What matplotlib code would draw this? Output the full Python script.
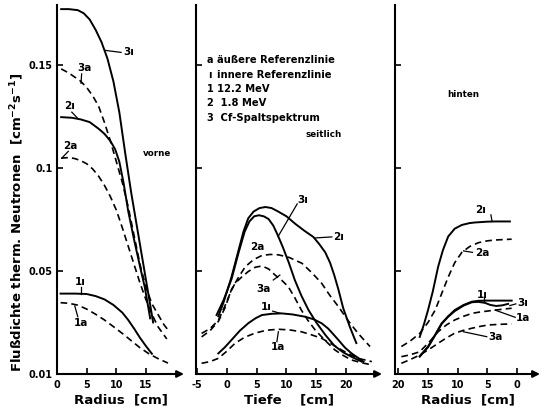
import matplotlib
matplotlib.use("Agg")
import matplotlib.pyplot as plt

plt.rcParams["font.family"] = ["DejaVu Sans"]
plt.rcParams["font.weight"] = "bold"

# --- Daten ---------------------------------------------------------------
# vorne (Radius, cm)
v_x_3i = [0.7, 2.0, 3.5, 4.5, 5.5, 6.5, 7.5, 8.5, 9.5, 10.5, 11.5, 12.5, 13.5, 14.5, 15.5, 16.2]
v_y_3i = [0.177, 0.177, 0.1765, 0.175, 0.172, 0.167, 0.161, 0.153, 0.142, 0.127, 0.107,
          0.088, 0.071, 0.054, 0.037, 0.025]
v_x_3a = [0.7, 2.0, 3.0, 4.0, 5.0, 6.0, 7.0, 8.0, 9.0, 10.0, 11.0, 12.0, 13.0, 14.0, 15.0,
          16.0, 17.0, 18.0, 18.8]
v_y_3a = [0.148, 0.146, 0.144, 0.142, 0.139, 0.135, 0.130, 0.122, 0.113, 0.103, 0.093,
          0.081, 0.067, 0.053, 0.042, 0.034, 0.029, 0.024, 0.021]
v_x_2i = [0.7, 2.5, 4.0, 5.5, 7.0, 8.0, 9.0, 9.8, 10.5, 11.2, 12.0, 13.0, 14.0, 14.8, 15.7]
v_y_2i = [0.1246, 0.1243, 0.1235, 0.1222, 0.119, 0.1165, 0.113, 0.109, 0.103, 0.093,
          0.079, 0.065, 0.052, 0.042, 0.027]
v_x_2a = [0.7, 2.0, 3.0, 4.0, 5.0, 6.0, 7.0, 8.0, 9.0, 10.0, 11.0, 12.0, 13.0, 14.0, 15.0,
          16.0, 17.0, 18.5]
v_y_2a = [0.1047, 0.105, 0.1045, 0.1035, 0.102, 0.0995, 0.096, 0.0915, 0.086, 0.0795,
          0.071, 0.062, 0.053, 0.044, 0.036, 0.029, 0.023, 0.017]
v_x_1i = [0.6, 3.0, 5.0, 6.5, 8.0, 9.5, 11.0, 12.0, 13.0, 14.0, 15.0, 16.0]
v_y_1i = [0.039, 0.039, 0.0388, 0.0378, 0.0362, 0.0335, 0.0298, 0.0262, 0.022, 0.0175,
          0.0135, 0.0098]
v_x_1a = [0.6, 2.0, 3.5, 5.0, 6.5, 8.0, 9.5, 11.0, 12.5, 14.0, 15.5, 17.0, 18.7]
v_y_1a = [0.0346, 0.0343, 0.0334, 0.0315, 0.029, 0.0262, 0.023, 0.0197, 0.0162, 0.0127,
          0.0098, 0.0075, 0.0053]

# seitlich (Tiefe, cm)
s_x_2i = [-1.4, -0.5, 0.8, 1.8, 2.8, 3.6, 4.5, 5.5, 6.5, 7.5, 8.5, 10.0, 11.5, 13.0, 14.5,
          15.5, 16.5, 17.3, 18.0, 18.7, 19.5, 20.6, 21.7]
s_y_2i = [0.028, 0.035, 0.047, 0.058, 0.069, 0.0755, 0.0788, 0.0805, 0.081, 0.0805, 0.079,
          0.0765, 0.0728, 0.0695, 0.0665, 0.063, 0.059, 0.054, 0.048, 0.041, 0.032, 0.023,
          0.015]
s_x_3i = [-1.7, -0.5, 0.8, 2.0, 3.0, 3.8, 4.6, 5.4, 6.2, 7.0, 7.8, 8.6, 9.4, 10.4, 11.4,
          12.5, 13.7, 15.0, 16.5, 18.0, 19.5, 21.0, 22.6]
s_y_3i = [0.0286, 0.036, 0.046, 0.059, 0.069, 0.074, 0.0765, 0.077, 0.0765, 0.0752, 0.072,
          0.067, 0.0615, 0.054, 0.0456, 0.038, 0.031, 0.025, 0.019, 0.0138, 0.0105, 0.0082,
          0.006]
s_x_2a = [-4.2, -2.8, -1.4, -0.3, 0.8, 2.0, 3.1, 4.5, 5.9, 7.3, 8.7, 10.5, 12.6, 14.3, 15.9,
          17.3, 18.7, 20.3, 22.0, 24.0]
s_y_2a = [0.018, 0.021, 0.0255, 0.032, 0.041, 0.047, 0.052, 0.0555, 0.0575, 0.058, 0.0578,
          0.0565, 0.0537, 0.049, 0.044, 0.038, 0.0327, 0.026, 0.0197, 0.0133]
s_x_3a = [-4.2, -2.8, -1.4, -0.3, 0.7, 1.4, 2.5, 3.6, 4.8, 5.9, 7.0, 8.1, 9.2, 10.3, 11.4,
          12.5, 13.6, 14.8, 16.4, 18.1, 19.5, 20.9, 22.5, 24.3]
s_y_3a = [0.0197, 0.022, 0.026, 0.033, 0.040, 0.044, 0.047, 0.0497, 0.0518, 0.0524, 0.051,
          0.048, 0.0455, 0.0424, 0.037, 0.031, 0.026, 0.0214, 0.0165, 0.0117, 0.009, 0.0068,
          0.0055, 0.0044]
s_x_1i = [-1.4, -0.3, 0.8, 2.2, 3.6, 4.8, 5.9, 7.5, 9.2, 11.0, 13.1, 14.6, 15.9, 17.0, 18.0,
          18.7, 19.8, 20.9, 22.9]
s_y_1i = [0.010, 0.013, 0.0165, 0.021, 0.0246, 0.027, 0.0286, 0.0292, 0.0294, 0.0289,
          0.0278, 0.0265, 0.0246, 0.022, 0.0188, 0.0165, 0.0128, 0.010, 0.006]
s_x_1a = [-4.2, -2.8, -1.4, 0.0, 1.4, 3.0, 4.7, 6.6, 8.6, 10.5, 12.5, 14.2, 15.9, 17.6, 19.2,
          20.6, 22.0, 24.3]
s_y_1a = [0.0052, 0.006, 0.0076, 0.011, 0.0149, 0.0178, 0.0198, 0.0212, 0.0217, 0.0214,
          0.0205, 0.019, 0.0173, 0.0145, 0.0117, 0.0095, 0.0076, 0.006]

# hinten (Radius, cm)
h_x_2i = [16.4, 15.7, 15.0, 14.2, 13.3, 12.5, 11.6, 10.5, 9.3, 8.0, 7.1, 5.0, 3.7, 1.2]
h_y_2i = [0.018, 0.024, 0.031, 0.040, 0.052, 0.060, 0.0667, 0.0705, 0.0723, 0.0732, 0.0735,
          0.0739, 0.074, 0.074]
h_x_2a = [19.5, 18.0, 16.4, 15.0, 13.8, 12.7, 11.6, 10.5, 9.3, 8.0, 6.5, 5.0, 3.7, 0.9]
h_y_2a = [0.0133, 0.016, 0.0197, 0.025, 0.031, 0.039, 0.047, 0.054, 0.059, 0.0618, 0.0637,
          0.0646, 0.065, 0.0654]
h_x_1i = [16.4, 15.0, 13.8, 12.7, 11.6, 10.5, 9.0, 7.6, 6.5, 5.4, 0.9]
h_y_1i = [0.0084, 0.0133, 0.019, 0.0246, 0.028, 0.031, 0.0335, 0.0351, 0.0355, 0.0356,
          0.0356]
h_x_3i = [16.4, 15.0, 13.8, 12.7, 11.6, 10.5, 9.0, 7.6, 6.5, 5.4, 4.5, 3.5, 2.5, 1.5]
h_y_3i = [0.0087, 0.013, 0.0188, 0.0243, 0.0278, 0.0305, 0.0332, 0.0348, 0.035, 0.0345,
          0.0335, 0.033, 0.0333, 0.034]
h_x_1a = [19.5, 18.0, 16.4, 14.8, 13.3, 11.9, 10.5, 9.0, 7.6, 6.2, 4.8, 2.8, 0.9]
h_y_1a = [0.0084, 0.0093, 0.0108, 0.0155, 0.0205, 0.0238, 0.0262, 0.028, 0.0294, 0.0301,
          0.0306, 0.0313, 0.0319]
h_x_3a = [19.5, 18.0, 16.4, 14.8, 13.3, 11.9, 10.5, 9.0, 7.6, 6.2, 4.8, 2.8, 0.9]
h_y_3a = [0.0052, 0.007, 0.0092, 0.012, 0.0149, 0.0175, 0.0198, 0.0212, 0.0222, 0.0231,
          0.0238, 0.0241, 0.0243]

y_ticks = [0.0, 0.05, 0.1, 0.15]
y_ticklabels = ["0.01", "0.05", "0.1", "0.15"]

legend_keys = ["a", "ı", "1", "2", "3"]
legend_texts = ["äußere Referenzlinie", "innere Referenzlinie", "12.2 MeV",
                " 1.8 MeV", " Cf-Spaltspektrum"]

W, H = 541, 413
fig = plt.figure(figsize=(W / 100, H / 100), dpi=100)


def make_ax(left_px, right_px, xlim, xticks, xticklabels, xlabel):
    ax = fig.add_axes([left_px / W, (H - 374) / H, (right_px - left_px) / W, 369 / H])
    ax.set_xlim(*xlim)
    ax.set_ylim(0, 0.179)
    for s in ("top", "right", "bottom"):
        ax.spines[s].set_visible(False)
    ax.spines["left"].set_linewidth(1.5)
    ax.set_yticks(y_ticks)
    ax.set_xticks(xticks)
    ax.set_xticklabels(xticklabels, fontsize=7, fontweight="bold")
    ax.tick_params(direction="in", length=4, width=1.2, pad=4)
    ax.set_xlabel(xlabel, fontsize=9.5, fontweight="bold", labelpad=3)
    ax.annotate("", xy=(1.0, 0), xytext=(0, 0), xycoords="axes fraction",
                arrowprops=dict(arrowstyle="-|>", lw=1.5, color="black",
                                mutation_scale=10, shrinkA=0, shrinkB=0))
    return ax


def curve(ax, x, y, dashed):
    if dashed:
        ax.plot(x, y, color="black", lw=1.2, dashes=(4, 2.5))
    else:
        ax.plot(x, y, color="black", lw=1.4, solid_joinstyle="round")


def label(ax, txt, xy_text, xy_from=None, xy_to=None):
    ax.text(*xy_text, txt, fontsize=7.5, fontweight="bold", ha="center", va="center")
    if xy_from is not None:
        ax.plot([xy_from[0], xy_to[0]], [xy_from[1], xy_to[1]], color="black", lw=0.9)


# vorne
ax1 = make_ax(57, 184, (0, 21.4), [0, 5, 10, 15], ["0", "5", "10", "15"], "Radius  [cm]")
ax1.set_yticklabels(y_ticklabels, fontsize=7, fontweight="bold")
ax1.tick_params(axis="y", pad=3)
curve(ax1, v_x_3i, v_y_3i, False)
curve(ax1, v_x_3a, v_y_3a, True)
curve(ax1, v_x_2i, v_y_2i, False)
curve(ax1, v_x_2a, v_y_2a, True)
curve(ax1, v_x_1i, v_y_1i, False)
curve(ax1, v_x_1a, v_y_1a, True)
label(ax1, "3ı", (12.1, 0.156), (8.1, 0.157), (10.8, 0.156))
label(ax1, "3a", (4.55, 0.1485), (4.15, 0.1456), (4.05, 0.141))
label(ax1, "2ı", (2.2, 0.130), (2.5, 0.127), (3.5, 0.124))
label(ax1, "2a", (2.3, 0.1107), (1.9, 0.108), (0.8, 0.1047))
label(ax1, "1ı", (3.9, 0.0448), (4.0, 0.042), (4.0, 0.039))
label(ax1, "1a", (4.1, 0.0245), (3.5, 0.0278), (3.0, 0.033))
ax1.text(16.9, 0.107, "vorne", fontsize=6.3, fontweight="bold", ha="center", va="center")

# seitlich
ax2 = make_ax(196, 382, (-5.14, 26.0), [-5, 0, 5, 10, 15, 20],
              ["-5", "0", "5", "10", "15", "20"], "Tiefe    [cm]")
ax2.set_yticklabels([])
curve(ax2, s_x_2i, s_y_2i, False)
curve(ax2, s_x_3i, s_y_3i, False)
curve(ax2, s_x_2a, s_y_2a, True)
curve(ax2, s_x_3a, s_y_3a, True)
curve(ax2, s_x_1i, s_y_1i, False)
curve(ax2, s_x_1a, s_y_1a, True)
label(ax2, "3ı", (12.7, 0.0845), (11.8, 0.0825), (8.6, 0.0667))
label(ax2, "2ı", (18.8, 0.0667), (14.8, 0.066), (17.6, 0.0665))
label(ax2, "2a", (5.1, 0.0618))
label(ax2, "3a", (6.1, 0.0413), (7.8, 0.0456), (8.9, 0.048))
label(ax2, "1ı", (6.6, 0.0325), (7.7, 0.0305), (9.0, 0.0294))
label(ax2, "1a", (8.6, 0.0133), (8.4, 0.0157), (8.65, 0.0205))
ax2.text(16.3, 0.116, "seitlich", fontsize=6.3, fontweight="bold", ha="center", va="center")
leg_y = [0.1524, 0.145, 0.1383, 0.1314, 0.124]
for k, t, yy in zip(legend_keys, legend_texts, leg_y):
    ax2.text(-2.8, yy, k, fontsize=7, fontweight="bold", ha="center", va="center")
    ax2.text(-1.6, yy, t, fontsize=7.2, fontweight="bold", ha="left", va="center")

# hinten
ax3 = make_ax(395, 540, (20.57, -3.88), [20, 15, 10, 5, 0],
              ["20", "15", "10", "5", "0"], "Radius  [cm]")
ax3.set_yticklabels([])
curve(ax3, h_x_2i, h_y_2i, False)
curve(ax3, h_x_2a, h_y_2a, True)
curve(ax3, h_x_1i, h_y_1i, False)
curve(ax3, h_x_3i, h_y_3i, False)
curve(ax3, h_x_1a, h_y_1a, True)
curve(ax3, h_x_3a, h_y_3a, True)
label(ax3, "2ı", (6.2, 0.0796), (4.4, 0.0772), (4.2, 0.074))
label(ax3, "2a", (5.9, 0.0586), (7.5, 0.059), (9.0, 0.0597))
label(ax3, "1ı", (5.9, 0.0385), (5.6, 0.0375), (5.6, 0.0356))
label(ax3, "3ı", (-1.0, 0.0343), (1.2, 0.0332), (0.2, 0.034))
label(ax3, "1a", (-1.0, 0.027), (3.7, 0.031), (0.3, 0.0275))
label(ax3, "3a", (3.6, 0.0181), (9.05, 0.0205), (5.1, 0.0181))
ax3.text(9.1, 0.1354, "hinten", fontsize=6.3, fontweight="bold", ha="center", va="center")

fig.text(17 / W, 1 - 222 / H, "Flußdichte therm. Neutronen  [cm$^{-2}$s$^{-1}$]",
         rotation=90, fontsize=9.5, fontweight="bold", ha="center", va="center")

fig.savefig("out.png", dpi=100)
